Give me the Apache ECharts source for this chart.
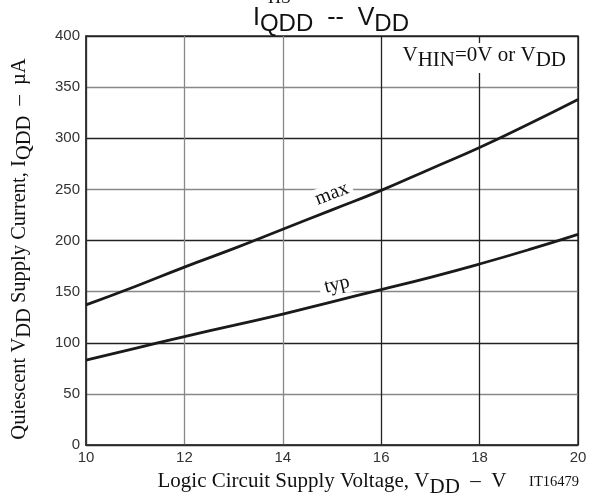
<!DOCTYPE html>
<html><head><meta charset="utf-8">
<script src="https://cdn.jsdelivr.net/npm/echarts@6/dist/echarts.min.js"></script>
<style>html,body{margin:0;padding:0;background:#fff}#c{width:602px;height:500px}</style>
</head><body><div id="c"></div>
<script>
var xValues = [10, 11, 12, 13, 14, 15, 16, 17, 18, 19, 20];
var maxValues = [137, 155, 174, 192, 211, 230, 249, 270, 291, 314, 338];
var typValues = [83, 94.5, 106, 117, 128, 140, 152, 164, 177, 191, 206];
var xTicks = [10, 12, 14, 16, 18, 20];
var yTicks = [0, 50, 100, 150, 200, 250, 300, 350, 400];

function pairs(xs, ys){ return xs.map(function(x,i){ return [x, ys[i]]; }); }

var chart = echarts.init(document.getElementById('c'), null, {renderer:'canvas'});
var serif = 'Liberation Serif, Times New Roman, serif';
var sans = 'Liberation Sans, Arial, sans-serif';

var option = {
  animation: false,
  backgroundColor: '#fff',
  grid: {left: 86, right: 24, top: 36, bottom: 55, show: true, borderColor: '#333', borderWidth: 1.5},
  xAxis: {
    type: 'value', min: 10, max: 20, interval: 2,
    axisLine: {show: true, lineStyle: {color: '#333', width: 1.5}},
    axisTick: {show: false},
    axisLabel: {color: '#333', fontFamily: sans, fontSize: 15, margin: 5},
    splitLine: {show: true, lineStyle: {color: ['#222', '#888', '#888', '#222', '#222', '#222'], width: 1.3}}
  },
  yAxis: {
    type: 'value', min: 0, max: 400, interval: 50,
    axisLine: {show: true, lineStyle: {color: '#333', width: 1.5}},
    axisTick: {show: false},
    axisLabel: {color: '#333', fontFamily: sans, fontSize: 15, margin: 6},
    splitLine: {show: true, lineStyle: {color: ['#222', '#888'], width: 1.3}}
  },
  series: [
    {type: 'line', data: pairs(xValues, maxValues), smooth: true, symbol: 'none',
     lineStyle: {color: '#1a1a1a', width: 2.8}, z: 3},
    {type: 'line', data: pairs(xValues, typValues), smooth: true, symbol: 'none',
     lineStyle: {color: '#1a1a1a', width: 2.8}, z: 3}
  ]
};
chart.setOption(option);

var pMax = chart.convertToPixel({gridIndex: 0}, [15, 230]);
var pTyp = chart.convertToPixel({gridIndex: 0}, [15.1, 141]);

chart.setOption({
  graphic: [
    {type: 'text', x: 268, y: -11, z: 10,
     style: {text: 'HS', font: '18px ' + serif, fill: '#111'}},
    {type: 'text', x: 331, y: 6, z: 10,
     style: {text: '{m|I}{s|QDD}{m|  --  V}{s|DD}', align: 'center', verticalAlign: 'top',
       rich: {
         m: {fontFamily: sans, fontSize: 25, fill: '#111', lineHeight: 30, verticalAlign: 'top'},
         s: {fontFamily: sans, fontSize: 24, fill: '#111', lineHeight: 30, verticalAlign: 'bottom', padding: [10, 0, 0, 0]}
       }}},
    {type: 'text', x: 568, y: 58, z: 10,
     style: {text: '{m|V}{s|HIN}{m|=0V or V}{s|DD}', align: 'right', verticalAlign: 'middle',
       backgroundColor: '#fff', padding: [2, 2, 2, 4],
       rich: {
         m: {fontFamily: serif, fontSize: 21, fill: '#111', verticalAlign: 'top', lineHeight: 26},
         s: {fontFamily: serif, fontSize: 21, fill: '#111', verticalAlign: 'bottom', lineHeight: 26, padding: [8, 0, 0, 0]}
       }}},
    {type: 'text', x: 22, y: 249, rotation: Math.PI / 2, z: 10,
     style: {text: '{m|Quiescent V}{s|DD}{m| Supply Current, I}{s|QDD}{m|  –  µA}', align: 'center', verticalAlign: 'middle',
       rich: {
         m: {fontFamily: serif, fontSize: 20.5, fill: '#111', verticalAlign: 'top', lineHeight: 26},
         s: {fontFamily: serif, fontSize: 20.5, fill: '#111', verticalAlign: 'bottom', lineHeight: 26, padding: [8, 0, 0, 0]}
       }}},
    {type: 'text', x: 332, y: 484, z: 10,
     style: {text: '{m|Logic Circuit Supply Voltage, V}{s|DD}{m|  –  V}', align: 'center', verticalAlign: 'middle',
       rich: {
         m: {fontFamily: serif, fontSize: 21, fill: '#111', verticalAlign: 'top', lineHeight: 27},
         s: {fontFamily: serif, fontSize: 21, fill: '#111', verticalAlign: 'bottom', lineHeight: 27, padding: [8, 0, 0, 0]}
       }}},
    {type: 'text', x: 579, y: 482, z: 10,
     style: {text: 'IT16479', align: 'right', verticalAlign: 'middle', font: '14.5px ' + serif, fill: '#111'}},
    {type: 'text', x: pMax[0], y: pMax[1] - 16, rotation: 21 * Math.PI / 180, z: 10,
     style: {text: 'max', align: 'center', verticalAlign: 'middle', font: '20px ' + serif, fill: '#111',
       backgroundColor: '#fff', padding: [0, 4, 0, 4]}},
    {type: 'text', x: pTyp[0], y: pTyp[1] - 16, rotation: 13 * Math.PI / 180, z: 10,
     style: {text: 'typ', align: 'center', verticalAlign: 'middle', font: '20px ' + serif, fill: '#111',
       backgroundColor: '#fff', padding: [0, 5, 0, 5]}}
  ]
});
</script></body></html>
